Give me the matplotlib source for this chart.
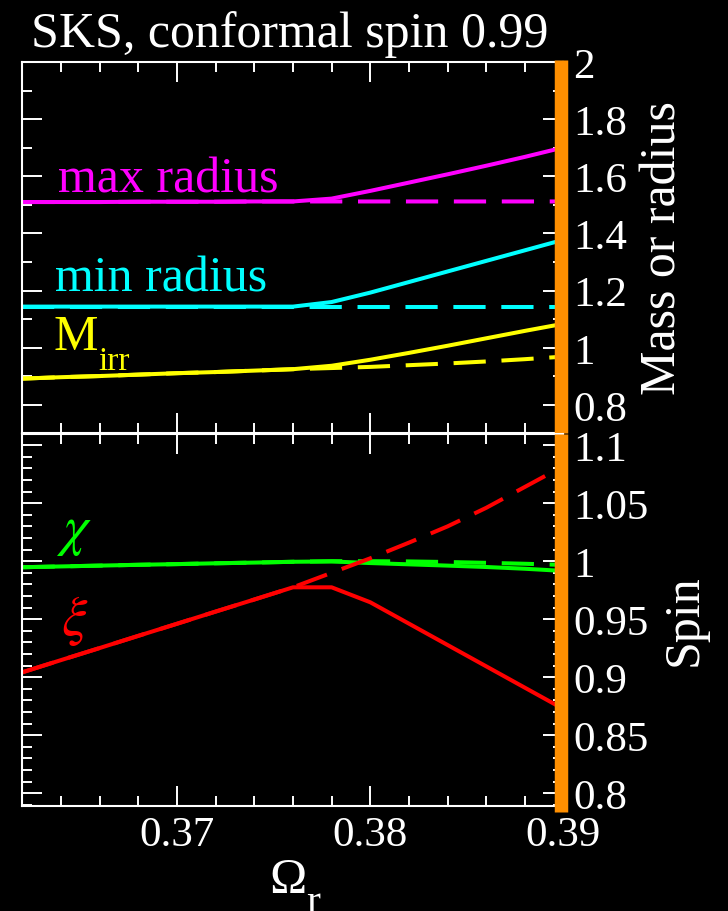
import matplotlib
matplotlib.use('Agg')
import matplotlib.pyplot as plt
from matplotlib.ticker import MultipleLocator, FuncFormatter

plt.rcParams['font.family'] = ['Liberation Serif', 'DejaVu Serif']
plt.rcParams['mathtext.fontset'] = 'stix'

# --- data: orbital frequency vs. horizon quantities ---
omega = [0.362, 0.364, 0.366, 0.368, 0.370, 0.372, 0.374, 0.376,
         0.378, 0.380, 0.382, 0.384, 0.386, 0.388, 0.390]

max_radius = [1.510, 1.510, 1.510, 1.511, 1.511, 1.511, 1.512, 1.512,
              1.522, 1.549, 1.578, 1.607, 1.637, 1.668, 1.701]
max_radius_ref = [1.510, 1.510, 1.510, 1.511, 1.511, 1.511, 1.512, 1.512,
                  1.512, 1.512, 1.512, 1.512, 1.512, 1.512, 1.512]

min_radius = [1.144, 1.144, 1.144, 1.144, 1.144, 1.144, 1.144, 1.144,
              1.160, 1.193, 1.230, 1.267, 1.304, 1.341, 1.378]
min_radius_ref = [1.144, 1.144, 1.144, 1.144, 1.144, 1.144, 1.144, 1.144,
                  1.144, 1.144, 1.144, 1.144, 1.144, 1.144, 1.144]

m_irr = [0.892, 0.897, 0.901, 0.906, 0.911, 0.915, 0.920, 0.925,
         0.937, 0.958, 0.982, 1.007, 1.033, 1.059, 1.084]
m_irr_ref = [0.892, 0.897, 0.901, 0.906, 0.911, 0.915, 0.920, 0.925,
             0.929, 0.933, 0.939, 0.945, 0.952, 0.960, 0.969]

chi = [0.9948, 0.9955, 0.9962, 0.9969, 0.9975, 0.9982, 0.9988, 0.9995,
       0.9998, 0.9984, 0.9973, 0.9962, 0.9950, 0.9935, 0.9916]
chi_ref = [0.9948, 0.9955, 0.9962, 0.9969, 0.9975, 0.9982, 0.9988, 0.9995,
           1.0000, 1.0000, 0.9998, 0.9993, 0.9986, 0.9978, 0.9968]

xi = [0.9043, 0.9148, 0.9252, 0.9357, 0.9461, 0.9566, 0.9670, 0.9775,
      0.9775, 0.9646, 0.9462, 0.9278, 0.9094, 0.8910, 0.8726]
xi_ref = [0.9043, 0.9148, 0.9252, 0.9357, 0.9461, 0.9566, 0.9670, 0.9775,
          0.9900, 1.0025, 1.0160, 1.0300, 1.0460, 1.0640, 1.0820]

omega_marker = 0.38985

LW = 2.9
DASH = (0, (8.0, 3.9))

fig = plt.figure(figsize=(7.28, 9.12), dpi=100, facecolor='black')
ax_top = fig.add_axes([0.0309, 0.5236, 0.7431, 0.4073])
ax_bot = fig.add_axes([0.0309, 0.1151, 0.7431, 0.4084], sharex=ax_top)

fmt_g = FuncFormatter(lambda v, _: f'{v:g}')

for ax in (ax_top, ax_bot):
    ax.set_facecolor('black')
    for s in ax.spines.values():
        s.set_color('white')
        s.set_linewidth(1.5)
    ax.tick_params(which='both', direction='in', top=True, bottom=True,
                   left=True, right=True, labelleft=False, labelright=True,
                   colors='white', labelsize=31, width=1.4, pad=7)
    ax.tick_params(which='major', length=14.4)
    ax.tick_params(which='minor', length=7.2)
    ax.yaxis.set_major_formatter(fmt_g)

ax_top.tick_params(labelbottom=False)
ax_bot.tick_params(axis='x', pad=7)

ax_bot.set_xlim(0.362, 0.390)
ax_bot.xaxis.set_major_locator(MultipleLocator(0.01))
ax_bot.xaxis.set_minor_locator(MultipleLocator(0.002))
ax_bot.xaxis.set_major_formatter(FuncFormatter(lambda v, _: f'{v:.2f}'))

# upper panel: masses and radii
ax_top.set_ylim(0.7, 2.0)
ax_top.yaxis.set_major_locator(MultipleLocator(0.2))
ax_top.yaxis.set_minor_locator(MultipleLocator(0.1))

ax_top.plot(omega, max_radius, color='#ff00ff', lw=LW)
ax_top.plot(omega, max_radius_ref, color='#ff00ff', lw=LW, ls=DASH)
ax_top.plot(omega, min_radius, color='#00ffff', lw=LW)
ax_top.plot(omega, min_radius_ref, color='#00ffff', lw=LW, ls=DASH)
ax_top.plot(omega, m_irr, color='#ffff00', lw=LW)
ax_top.plot(omega, m_irr_ref, color='#ffff00', lw=LW, ls=DASH)

ax_top.text(0.36384, 1.547, 'max radius', color='#ff00ff', fontsize=36,
            va='baseline', ha='left')
ax_top.text(0.36368, 1.202, 'min radius', color='#00ffff', fontsize=36,
            va='baseline', ha='left')
ax_top.text(0.36359, 0.9965, 'M', color='#ffff00', fontsize=36,
            va='baseline', ha='left')
ax_top.text(0.36592, 0.926, 'irr', color='#ffff00', fontsize=24,
            va='baseline', ha='left')

# lower panel: spin measures
ax_bot.set_ylim(0.789, 1.110)
ax_bot.yaxis.set_major_locator(MultipleLocator(0.05))
ax_bot.yaxis.set_minor_locator(MultipleLocator(0.01))

ax_bot.plot(omega, chi, color='#00ff00', lw=LW)
ax_bot.plot(omega, chi_ref, color='#00ff00', lw=LW, ls=DASH)
ax_bot.plot(omega, xi, color='#ff0000', lw=LW)
ax_bot.plot(omega, xi_ref, color='#ff0000', lw=LW, ls=DASH)

ax_bot.text(0.36375, 1.0160, r'$\chi$', color='#00ff00', fontsize=40,
            va='baseline', ha='left')
ax_bot.text(0.3640, 0.9375, r'$\xi$', color='#ff0000', fontsize=41,
            va='baseline', ha='left')

# vertical marker across both panels
ax_top.axvline(omega_marker, ymin=0.0, ymax=1.006, color='#ff8f00', lw=9.7,
               solid_capstyle='butt', clip_on=False, zorder=5)
ax_bot.axvline(omega_marker, ymin=-0.016, ymax=1.0, color='#ff8f00', lw=9.7,
               solid_capstyle='butt', clip_on=False, zorder=5)

# titles and axis labels
fig.text(290 / 728, 1 - 46.7 / 912, 'SKS, conformal spin 0.99', color='white',
         fontsize=36, ha='center', va='baseline')
fig.text(676 / 728, 1 - 248 / 912, 'Mass or radius', color='white',
         fontsize=36, rotation=90, rotation_mode='anchor',
         ha='center', va='baseline')
fig.text(697 / 728, 1 - 620 / 912, 'Spin', color='white', fontsize=36,
         rotation=90, rotation_mode='anchor', ha='center', va='baseline')
fig.text(288 / 728, 1 - 893 / 912, '\u03a9', color='white', fontsize=36,
         ha='center', va='baseline')
fig.text(306 / 728, 1 - 913 / 912, 'r', color='white', fontsize=30,
         ha='left', va='baseline')

fig.savefig('out.png', dpi=100, facecolor='black')
